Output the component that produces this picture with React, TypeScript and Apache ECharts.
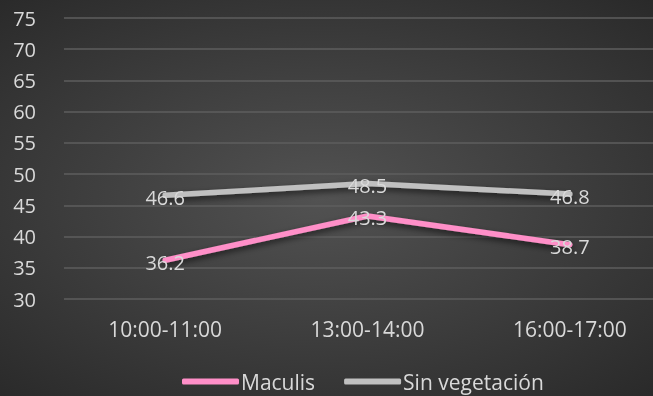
import React, { useEffect, useRef } from "react";
import * as echarts from "echarts";

const categories = ["10:00-11:00", "13:00-14:00", "16:00-17:00"];
const maculis = [36.2, 43.3, 38.7];
const sinVegetacion = [46.6, 48.5, 46.8];
const seriesNames = ["Maculis", "Sin vegetación"];

const FONT = "'Open Sans', 'Noto Sans', sans-serif";
const TEXT = "#d9d9d9";

export default function App() {
  const ref = useRef<HTMLDivElement>(null);
  useEffect(() => {
    if (!ref.current) return;
    const chart = echarts.init(ref.current, undefined, { renderer: "svg" });
    const lineSeries = (name: string, data: number[], color: string) => ({
      name,
      type: "line",
      data,
      symbol: "circle",
      symbolSize: 0,
      showSymbol: true,
      lineStyle: {
        color,
        width: 5.5,
        cap: "round",
        shadowColor: "rgba(0,0,0,0.6)",
        shadowBlur: 6,
        shadowOffsetY: 3,
      },
      itemStyle: { color },
      label: {
        show: true,
        position: "top",
        distance: 0,
        verticalAlign: "middle",
        offset: [0, 2],
        color: TEXT,
        fontSize: 20,
        fontFamily: FONT,
      },
      z: name === "Maculis" ? 3 : 2,
    });
    chart.setOption({
      animation: false,
      backgroundColor: {
        type: "radial",
        x: 0.46,
        y: 0.5,
        r: 0.75,
        colorStops: [
          { offset: 0, color: "#525252" },
          { offset: 1, color: "#262626" },
        ],
      },
      grid: { left: 64, top: 18, width: 607, height: 281 },
      legend: {
        data: seriesNames,
        left: 177,
        top: 366,
        itemWidth: 57,
        itemHeight: 6,
        itemGap: 29,
        textStyle: { color: TEXT, fontSize: 21, fontFamily: FONT, padding: [0, 0, 0, -3] },
        icon: "roundRect",
      },
      xAxis: {
        type: "category",
        data: categories,
        boundaryGap: true,
        axisLine: { show: false },
        axisTick: { show: false },
        axisLabel: { color: TEXT, fontSize: 21, fontFamily: FONT, margin: 19 },
      },
      yAxis: {
        type: "value",
        min: 30,
        max: 75,
        interval: 5,
        axisLine: { show: false },
        axisTick: { show: false },
        axisLabel: { color: TEXT, fontSize: 20, fontFamily: FONT, margin: 28 },
        splitLine: { lineStyle: { color: "#5e5e5e", width: 1.5 } },
      },
      series: [
        lineSeries(seriesNames[0], maculis, "#ff8fc8"),
        lineSeries(seriesNames[1], sinVegetacion, "#c0c0c0"),
      ],
    });
    return () => chart.dispose();
  }, []);
  return (
    <div
      style={{
        position: "fixed",
        left: 0,
        top: 0,
        width: 653,
        height: 396,
        overflow: "hidden",
      }}
    >
      <div ref={ref} style={{ width: 700, height: 396 }} />
    </div>
  );
}
